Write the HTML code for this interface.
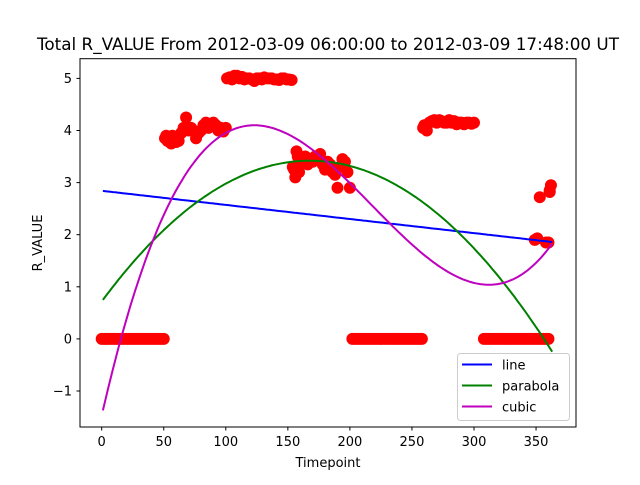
<!DOCTYPE html>
<html><head><meta charset="utf-8"><style>
body{margin:0;background:#fff}
svg text{font-family:"DejaVu Sans","Liberation Sans",sans-serif;fill:#000}
</style></head><body>
<svg id="chart" width="640" height="480" xmlns="http://www.w3.org/2000/svg">
<rect width="640" height="480" fill="#fff"/>
<text x="328" y="50" font-size="16.8" text-anchor="middle">Total R_VALUE From 2012-03-09 06:00:00 to 2012-03-09 17:48:00 UT</text>
<g id="pts"></g>
<g id="fits"></g>
<rect x="80" y="58.7" width="496" height="368.3" fill="none" stroke="#000" stroke-width="1"/>
<g id="xt"></g>
<g id="yt"></g>
<text x="328" y="467" font-size="13" text-anchor="middle">Timepoint</text>
<text x="0" y="0" font-size="13" text-anchor="middle" transform="translate(42,243) rotate(-90)">R_VALUE</text>
<g>
<rect x="457.5" y="353.5" width="112" height="67" rx="3" fill="#fff" fill-opacity="0.8" stroke="#ccc"/>
<g><line x1="462" y1="364.5" x2="492" y2="364.5" stroke="#0000ff" stroke-width="2"/><text x="502" y="369.5" font-size="13">line</text></g>
<g><line x1="462" y1="385.5" x2="492" y2="385.5" stroke="#008000" stroke-width="2"/><text x="502" y="390.5" font-size="13">parabola</text></g>
<g><line x1="462" y1="406.5" x2="492" y2="406.5" stroke="#bf00bf" stroke-width="2"/><text x="502" y="411.5" font-size="13">cubic</text></g>
</g>
</svg>
<script>
const xTicks=[0,50,100,150,200,250,300,350];
const yTicks=[-1,0,1,2,3,4,5];
const ptT=[0,2,4,6,8,10,12,14,16,18,20,22,24,26,28,30,32,34,36,38,40,42,44,46,48,50,
51,52,53,54,55,56,57,58,59,60,62,64,66,68,70,72,74,76,78,80,82,84,86,88,90,92,94,96,98,100,
101,103,105,107,109,111,113,115,117,119,121,123,125,127,129,131,133,135,137,139,141,143,145,147,149,151,153,
154,155,156,157,158,159,160,162,164,166,168,170,172,174,176,178,180,182,184,186,188,190,192,194,196,198,200,
202,204,206,208,210,212,214,216,218,220,222,224,226,228,230,232,234,236,238,240,242,244,246,248,250,252,254,256,258,
259,260,262,264,266,268,270,272,274,276,278,280,282,284,286,288,290,292,294,296,298,300,
308,310,312,314,316,318,320,322,324,326,328,330,332,334,336,338,340,342,344,346,348,350,352,354,356,358,360,
349,351,353,358,360,361,362,361];
const ptV=[0,0,0,0,0,0,0,0,0,0,0,0,0,0,0,0,0,0,0,0,0,0,0,0,0,0,
3.85,3.9,3.8,3.88,3.85,3.75,3.9,3.82,3.85,3.78,3.8,3.95,4.05,4.25,4.0,4.05,4.0,3.85,3.95,4.0,4.1,4.15,4.05,4.1,4.15,4.1,4.0,4.05,3.98,4.05,
5.0,5.02,4.98,5.05,5.05,5.0,5.03,4.98,5.0,5.0,4.98,4.95,5.0,5.0,4.98,5.02,5.0,5.0,5.0,4.98,4.98,4.97,5.0,5.0,4.98,4.98,4.97,
3.3,3.25,3.1,3.6,3.5,3.2,3.45,3.4,3.5,3.35,3.45,3.4,3.5,3.45,3.55,3.35,3.25,3.4,3.35,3.2,3.15,2.9,3.3,3.45,3.4,3.2,2.9,
0,0,0,0,0,0,0,0,0,0,0,0,0,0,0,0,0,0,0,0,0,0,0,0,0,0,0,0,0,
4.05,4.1,4.0,4.15,4.18,4.2,4.15,4.2,4.18,4.15,4.15,4.2,4.15,4.18,4.12,4.15,4.15,4.12,4.15,4.15,4.13,4.15,
0,0,0,0,0,0,0,0,0,0,0,0,0,0,0,0,0,0,0,0,0,0,0,0,0,0,0,
1.9,1.93,2.72,1.85,1.85,2.85,2.95,2.82];
const lineEnds=[2.84,1.86];
const paraCoef=[-9.61e-5,167.7,3.42];
const cubicCrit=[123,312,4.1,2.72e-6];
const fitRange=[1,363];
const X=t=>101.7+(t)*1.241, Y=v=>338.9-v*52.1;
const NS='http://www.w3.org/2000/svg';
const pts=document.getElementById('pts');
for(let i=0;i<ptT.length;i++){const c=document.createElementNS(NS,'circle');
c.setAttribute('cx',X(ptT[i]));c.setAttribute('cy',Y(ptV[i]));c.setAttribute('r',6);c.setAttribute('fill','#ff0000');


pts.appendChild(c);}
function lineF(t){return lineEnds[0]+(lineEnds[1]-lineEnds[0])*(t-fitRange[0])/(fitRange[1]-fitRange[0]);}
function paraF(t){return paraCoef[0]*(t-paraCoef[1])**2+paraCoef[2];}
function cubicF(t){const a=cubicCrit[0],b=cubicCrit[1],k=cubicCrit[3];
const P=u=>k*(u**3/3-(a+b)/2*u*u+a*b*u);return cubicCrit[2]+P(t)-P(a);}
const fits=document.getElementById('fits');
[[lineF,'#0000ff','fit-line'],[paraF,'#008000','fit-parabola'],[cubicF,'#bf00bf','fit-cubic']].forEach(([f,col,nm])=>{
let d='';for(let t=fitRange[0];t<=fitRange[1];t+=2){d+=(d?'L':'M')+X(t).toFixed(1)+','+Y(f(t)).toFixed(1);}
const p=document.createElementNS(NS,'path');p.setAttribute('d',d);p.setAttribute('fill','none');p.setAttribute('stroke',col);p.setAttribute('stroke-width','2');


fits.appendChild(p);});
const xt=document.getElementById('xt');
xTicks.forEach(v=>{const x=X(v);xt.insertAdjacentHTML('beforeend',`<line x1="${x}" y1="427" x2="${x}" y2="430.5" stroke="#000"/><text x="${x}" y="446" font-size="13" text-anchor="middle">${v}</text>`);});
const yt=document.getElementById('yt');
yTicks.forEach(v=>{const y=Y(v);yt.insertAdjacentHTML('beforeend',`<line x1="76.5" y1="${y}" x2="80" y2="${y}" stroke="#000"/><text x="72" y="${y+4.5}" font-size="13" text-anchor="end">${v<0?'\u2212'+(-v):v}</text>`);});
</script>
</body></html>
